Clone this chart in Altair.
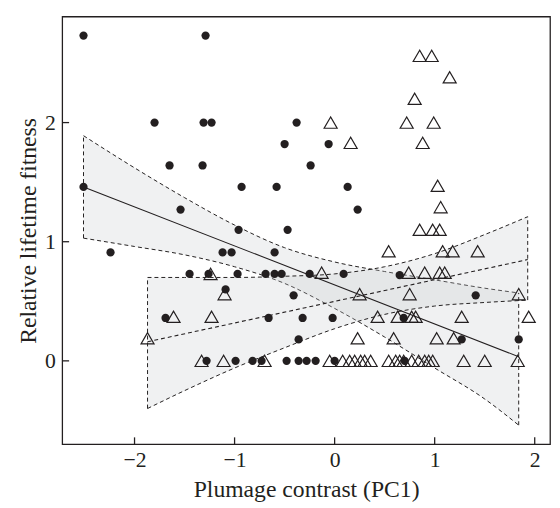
import altair as alt
import pandas as pd

# ---- data ----
circle_x = [-2.51, -1.29, -1.80, -1.31, -1.23, -0.38, -0.50, -0.06, -1.65, -1.32, -0.24,
            -2.51, -0.93, -0.58, 0.13, -1.54, 0.23, -0.96, -0.47, -2.24, -1.12, -1.03, -0.60,
            -1.45, -1.26, -0.97, -0.69, -0.60, -0.53, -0.25, 0.09, 0.65, -1.09, -0.41, 1.41,
            -1.69, -0.66, -0.32, -0.02, 0.69, -0.36, 1.27, 1.84,
            -1.28, -0.99, -0.82, -0.73, -0.48, -0.36, -0.28, -0.19, 0.00, 0.70]
circle_y = [2.73, 2.73, 2.0, 2.0, 2.0, 2.0, 1.82, 1.82, 1.64, 1.64, 1.64,
            1.46, 1.46, 1.46, 1.46, 1.27, 1.27, 1.10, 1.10, 0.91, 0.91, 0.91, 0.91,
            0.73, 0.73, 0.73, 0.73, 0.73, 0.73, 0.73, 0.73, 0.72, 0.60, 0.55, 0.55,
            0.36, 0.36, 0.36, 0.36, 0.36, 0.18, 0.18, 0.18,
            0, 0, 0, 0, 0, 0, 0, 0, 0, 0]

tri_x = [0.85, 0.97, 1.15, 0.80, -0.04, 0.72, 0.99, 0.16, 0.88, 1.03, 1.06,
         0.85, 0.98, 1.05, 0.54, 1.08, 1.18, 1.43,
         -1.24, -0.13, 0.74, 0.90, 1.05, 1.10,
         -1.10, 0.25, 0.75, 1.84,
         -1.61, -1.23, 0.43, 0.63, 0.77, 0.81, 1.27, 1.94,
         -1.87, 0.23, 0.59, 1.02, 1.19,
         -1.33, -1.11, -0.70, -0.05, 0.08, 0.15, 0.20, 0.26, 0.30, 0.36, 0.54, 0.61,
         0.65, 0.69, 0.77, 0.84, 0.90, 0.94, 0.98, 1.29, 1.50, 1.83]
tri_y = [2.56, 2.56, 2.38, 2.20, 2.0, 2.0, 2.0, 1.83, 1.83, 1.47, 1.29,
         1.10, 1.10, 1.10, 0.92, 0.92, 0.92, 0.92,
         0.73, 0.74, 0.74, 0.74, 0.74, 0.74,
         0.56, 0.56, 0.56, 0.56,
         0.37, 0.37, 0.37, 0.37, 0.37, 0.37, 0.37, 0.37,
         0.19, 0.19, 0.19, 0.19, 0.19,
         0, 0, 0, 0, 0, 0, 0, 0, 0, 0, 0, 0,
         0, 0, 0, 0, 0, 0, 0, 0, 0, 0]

# regression lines (end points)
circ_line_x = [-2.51, 1.84]
circ_line_y = [1.46, 0.035]
tri_line_x = [-1.87, 1.93]
tri_line_y = [0.16, 0.85]

# confidence bands
circ_band_x = [-2.51, -2.0, -1.5, -1.0, -0.5, 0.0, 0.5, 1.0, 1.5, 1.84]
circ_band_hi = [1.89, 1.62, 1.37, 1.14, 0.95, 0.83, 0.75, 0.68, 0.61, 0.57]
circ_band_lo = [1.03, 0.96, 0.89, 0.79, 0.65, 0.44, 0.20, -0.06, -0.32, -0.54]
tri_band_x = [-1.87, -1.5, -1.0, -0.5, 0.0, 0.5, 1.0, 1.5, 1.93]
tri_band_hi = [0.70, 0.70, 0.70, 0.71, 0.73, 0.79, 0.90, 1.06, 1.21]
tri_band_lo = [-0.40, -0.25, -0.06, 0.11, 0.27, 0.39, 0.46, 0.49, 0.51]

x_ticks = [-2, -1, 0, 1, 2]
y_ticks = [0, 1, 2]

W, H = 495, 434
FONT = "Liberation Serif"
INK = "#231f20"
DASH = [4, 3]

xs = alt.Scale(domain=[-2.723, 2.153], nice=False, zero=False)
ys = alt.Scale(domain=[-0.70, 2.89], nice=False, zero=False)

pts_c = pd.DataFrame({"x": circle_x, "y": circle_y})
pts_t = pd.DataFrame({"x": tri_x, "y": tri_y})
band_c = pd.DataFrame({"x": circ_band_x, "hi": circ_band_hi, "lo": circ_band_lo})
band_t = pd.DataFrame({"x": tri_band_x, "hi": tri_band_hi, "lo": tri_band_lo})
line_c = pd.DataFrame({"x": circ_line_x, "y": circ_line_y})
line_t = pd.DataFrame({"x": tri_line_x, "y": tri_line_y})
edges = pd.DataFrame({
    "x": [circ_band_x[0], circ_band_x[-1], tri_band_x[0], tri_band_x[-1]],
    "lo": [circ_band_lo[0], circ_band_lo[-1], tri_band_lo[0], tri_band_lo[-1]],
    "hi": [circ_band_hi[0], circ_band_hi[-1], tri_band_hi[0], tri_band_hi[-1]],
})

X = alt.X("x:Q", scale=xs, axis=alt.Axis(values=x_ticks, format="d", title="Plumage contrast (PC1)",
                                         grid=False, ticks=False, domain=False,
                                         labelPadding=6, titlePadding=7))
Y = alt.Y("y:Q", scale=ys, axis=alt.Axis(values=y_ticks, format="d", title="Relative lifetime fitness",
                                         grid=False, ticks=False, domain=False,
                                         labelPadding=7, titlePadding=4))


def band_layers(df):
    area = alt.Chart(df).mark_area(color="#c8ccd0", opacity=0.27, interpolate="monotone").encode(
        x=alt.X("x:Q", scale=xs), y=alt.Y("lo:Q", scale=ys), y2="hi:Q")
    hi = alt.Chart(df).mark_line(color=INK, strokeWidth=1, strokeDash=DASH, interpolate="monotone").encode(
        x=alt.X("x:Q", scale=xs), y=alt.Y("hi:Q", scale=ys))
    lo = alt.Chart(df).mark_line(color=INK, strokeWidth=1, strokeDash=DASH, interpolate="monotone").encode(
        x=alt.X("x:Q", scale=xs), y=alt.Y("lo:Q", scale=ys))
    return [area, hi, lo]


edge_rules = alt.Chart(edges).mark_rule(color=INK, strokeWidth=1, strokeDash=DASH).encode(
    x=alt.X("x:Q", scale=xs), y=alt.Y("lo:Q", scale=ys), y2="hi:Q")

lc = alt.Chart(line_c).mark_line(color=INK, strokeWidth=1.1).encode(x=X, y=Y)
lt = alt.Chart(line_t).mark_line(color=INK, strokeWidth=1.1, strokeDash=DASH).encode(
    x=alt.X("x:Q", scale=xs), y=alt.Y("y:Q", scale=ys))

pc = alt.Chart(pts_c).mark_point(shape="circle", filled=True, color=INK, size=70, opacity=1).encode(
    x=alt.X("x:Q", scale=xs), y=alt.Y("y:Q", scale=ys))
pt = alt.Chart(pts_t).mark_point(shape="triangle-up", filled=False, color=INK, size=175,
                                 strokeWidth=1.2, opacity=1).encode(
    x=alt.X("x:Q", scale=xs), y=alt.Y("y:Q", scale=ys))

xt = alt.Chart(pd.DataFrame({"x": x_ticks})).mark_rule(color=INK, strokeWidth=1.3).encode(
    x=alt.X("x:Q", scale=xs), y=alt.value(H), y2=alt.value(H - 7))
yt = alt.Chart(pd.DataFrame({"y": y_ticks})).mark_rule(color=INK, strokeWidth=1.3).encode(
    y=alt.Y("y:Q", scale=ys), x=alt.value(0), x2=alt.value(7))

chart = alt.layer(
    *band_layers(band_c), *band_layers(band_t), edge_rules, lc, lt, pc, pt, xt, yt
).properties(
    width=W, height=H, autosize="none",
    padding={"left": 55, "top": 5, "right": 2, "bottom": 61},
).configure_view(
    stroke=INK, strokeWidth=1.3
).configure_axis(
    labelFont=FONT, titleFont=FONT, labelFontSize=22, titleFontSize=24,
    labelColor=INK, titleColor=INK, titleFontWeight="normal",
)

chart.save("out.html", embed_options={"renderer": "svg", "actions": False})
